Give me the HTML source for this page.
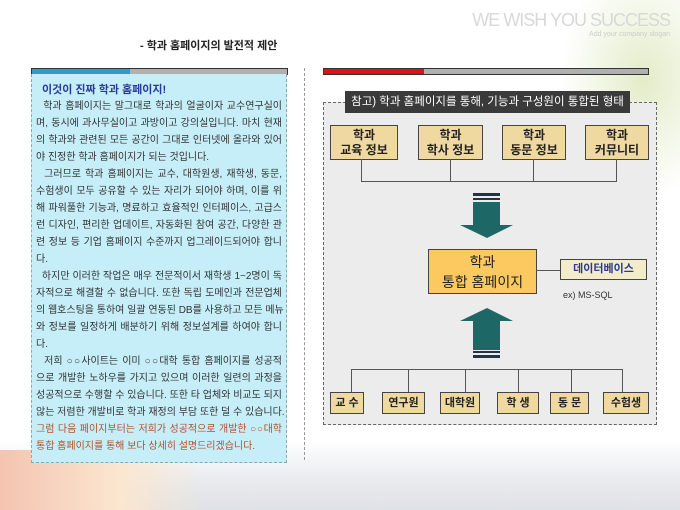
<!DOCTYPE html>
<html><head><meta charset="utf-8"><style>
body{margin:0;width:680px;height:510px;position:relative;overflow:hidden;background:#fff;font-family:"Liberation Sans","Noto Sans CJK KR","NanumGothic",sans-serif}
.a{position:absolute}
.ln{position:absolute;left:36px;width:246px;font-size:10px;color:#333;height:17px;line-height:17px;text-align:justify;text-align-last:justify;white-space:nowrap}
.ln.s{text-align-last:left}
.bx{position:absolute;background:#f0d9a0;border:1px solid #444;font-size:12px;color:#222;text-align:center;line-height:15px;display:flex;align-items:center;justify-content:center;font-weight:bold}
.v{position:absolute;width:1px;background:#555}
.h{position:absolute;height:1px;background:#555}
</style></head><body>
<div class="a" style="left:0;top:440px;width:680px;height:70px;background:linear-gradient(180deg,#fff 0%,#e8eaee 60%,#dfe2e6 100%)"></div>
<div class="a" style="left:0;top:450px;width:200px;height:60px;background:linear-gradient(90deg,#f4c4b0,#fbe6d0 60%,rgba(255,255,255,0))"></div>
<div class="a" style="left:560px;top:0;width:120px;height:200px;background:radial-gradient(ellipse at 70% 40%,#e3ecc8 0%,rgba(255,255,255,0) 70%)"></div>
<div class="a" style="left:440px;top:10px;width:230px;font-size:18px;color:#d8d8d8;text-align:right;letter-spacing:-1px;white-space:nowrap">WE WISH YOU SUCCESS</div>
<div class="a" style="left:540px;top:31px;width:130px;font-size:7px;color:#ccc;text-align:right;white-space:nowrap">Add your company slogan</div>
<div class="a" style="left:140px;top:37px;font-size:11px;color:#222;font-weight:bold">- 학과 홈페이지의 발전적 제안</div>

<div class="a" style="left:31px;top:68px;width:99px;height:5px;background:#2f9ad0;border:1px solid #333;border-right:none"></div>
<div class="a" style="left:130px;top:68px;width:157px;height:5px;background:#b0b0b0;border:1px solid #333;border-left:none"></div>
<div class="a" style="left:31px;top:74px;width:254px;height:388px;background:#c6eef8;border:1px dashed #8aa;border-top:none"></div>
<div class="a" style="left:304px;top:68px;height:392px;border-left:1px dashed #999"></div>

<div class="a" style="left:42px;top:81px;font-size:11px;color:#2a3a9a;font-weight:bold">이것이 진짜 학과 홈페이지!</div>
<div class="ln" style="top:98px">&nbsp;&nbsp;학과 홈페이지는 말그대로 학과의 얼굴이자 교수연구실이</div>
<div class="ln" style="top:115px">며, 동시에 과사무실이고 과방이고 강의실입니다. 마치 현재</div>
<div class="ln" style="top:132px">의 학과와 관련된 모든 공간이 그대로 인터넷에 올라와 있어</div>
<div class="ln s" style="top:149px">야 진정한 학과 홈페이지가 되는 것입니다.</div>
<div class="ln" style="top:166px">&nbsp;&nbsp;그러므로 학과 홈페이지는 교수, 대학원생, 재학생, 동문,</div>
<div class="ln" style="top:183px">수험생이 모두 공유할 수 있는 자리가 되어야 하며, 이를 위</div>
<div class="ln" style="top:200px">해 파워풀한 기능과, 명료하고 효율적인 인터페이스, 고급스</div>
<div class="ln" style="top:217px">런 디자인, 편리한 업데이트, 자동화된 참여 공간, 다양한 관</div>
<div class="ln" style="top:234px">련 정보 등 기업 홈페이지 수준까지 업그레이드되어야 합니</div>
<div class="ln s" style="top:251px">다.</div>
<div class="ln" style="top:268px">&nbsp;&nbsp;하지만 이러한 작업은 매우 전문적이서 재학생 1~2명이 독</div>
<div class="ln" style="top:285px">자적으로 해결할 수 없습니다. 또한 독립 도메인과 전문업체</div>
<div class="ln" style="top:302px">의 웹호스팅을 통하여 일괄 연동된 DB를 사용하고 모든 메뉴</div>
<div class="ln" style="top:319px">와 정보를 일정하게 배분하기 위해 정보설계를 하여야 합니</div>
<div class="ln s" style="top:336px">다.</div>
<div class="ln" style="top:353px">&nbsp;&nbsp;저희 ○○사이트는 이미 ○○대학 통합 홈페이지를 성공적</div>
<div class="ln" style="top:370px">으로 개발한 노하우를 가지고 있으며 이러한 일련의 과정을</div>
<div class="ln" style="top:387px">성공적으로 수행할 수 있습니다. 또한 타 업체와 비교도 되지</div>
<div class="ln" style="top:404px">않는 저렴한 개발비로 학과 재정의 부담 또한 덜 수 있습니다.</div>
<div class="ln" style="top:421px;color:#b4502a">그럼 다음 페이지부터는 저희가 성공적으로 개발한 ○○대학</div>
<div class="ln s" style="top:438px;color:#b4502a">통합 홈페이지를 통해 보다 상세히 설명드리겠습니다.</div>

<div class="a" style="left:323px;top:68px;width:101px;height:5px;background:#e01010;border:1px solid #333;border-right:none"></div>
<div class="a" style="left:424px;top:68px;width:224px;height:5px;background:#b0b0b0;border:1px solid #333;border-left:none"></div>
<div class="a" style="left:323px;top:102px;width:332px;height:321px;background:#ececec;border:1px dashed #666"></div>
<div class="a" style="left:345px;top:91px;width:285px;height:22px;background:#3a3a3a;color:#fff;font-size:11.5px;line-height:22px;text-align:center">참고) 학과 홈페이지를 통해, 기능과 구성원이 통합된 형태</div>

<div class="bx" style="left:330px;top:125px;width:66px;height:33px">학과<br>교육 정보</div>
<div class="bx" style="left:418px;top:125px;width:63px;height:33px">학과<br>학사 정보</div>
<div class="bx" style="left:502px;top:125px;width:62px;height:33px">학과<br>동문 정보</div>
<div class="bx" style="left:585px;top:125px;width:62px;height:33px">학과<br>커뮤니티</div>
<div class="v" style="left:361px;top:159px;height:22px"></div>
<div class="v" style="left:450px;top:159px;height:22px"></div>
<div class="v" style="left:533px;top:159px;height:22px"></div>
<div class="v" style="left:616px;top:159px;height:22px"></div>
<div class="h" style="left:361px;top:181px;width:256px"></div>

<svg class="a" style="left:0;top:0" width="680" height="510">
<rect x="473" y="193" width="27" height="3" fill="#234"/>
<rect x="473" y="198" width="27" height="2" fill="#234"/>
<rect x="473" y="202" width="27" height="24" fill="#1d6767"/>
<polygon points="460,225 513,225 487,238" fill="#1d6767"/>
<polygon points="460,321 513,321 487,308" fill="#1d6767"/>
<rect x="473" y="320" width="27" height="30" fill="#1d6767"/>
<rect x="473" y="351" width="27" height="2" fill="#234"/>
<rect x="473" y="355" width="27" height="3" fill="#234"/>
</svg>

<div class="bx" style="left:428px;top:249px;width:107px;height:43px;background:#fcc860;font-size:14px;line-height:20px;font-weight:normal">학과<br>통합 홈페이지</div>
<div class="h" style="left:536px;top:270px;width:24px"></div>
<div class="bx" style="left:560px;top:259px;width:85px;height:19px;background:#f3ecc8;color:#2a3a9a;font-size:11px">데이터베이스</div>
<div class="a" style="left:563px;top:290px;font-size:9px;color:#333">ex) MS-SQL</div>

<div class="h" style="left:351px;top:369px;width:272px"></div>
<div class="v" style="left:351px;top:369px;height:23px"></div>
<div class="v" style="left:408px;top:369px;height:23px"></div>
<div class="v" style="left:465px;top:369px;height:23px"></div>
<div class="v" style="left:518px;top:369px;height:23px"></div>
<div class="v" style="left:571px;top:369px;height:23px"></div>
<div class="v" style="left:622px;top:369px;height:23px"></div>
<div class="bx" style="left:330px;top:392px;width:32px;height:20px;font-size:11px">교 수</div>
<div class="bx" style="left:382px;top:392px;width:41px;height:20px;font-size:11px">연구원</div>
<div class="bx" style="left:440px;top:392px;width:38px;height:20px;font-size:11px">대학원</div>
<div class="bx" style="left:497px;top:392px;width:40px;height:20px;font-size:11px">학 생</div>
<div class="bx" style="left:550px;top:392px;width:37px;height:20px;font-size:11px">동 문</div>
<div class="bx" style="left:603px;top:392px;width:44px;height:20px;font-size:11px">수험생</div>
</body></html>
